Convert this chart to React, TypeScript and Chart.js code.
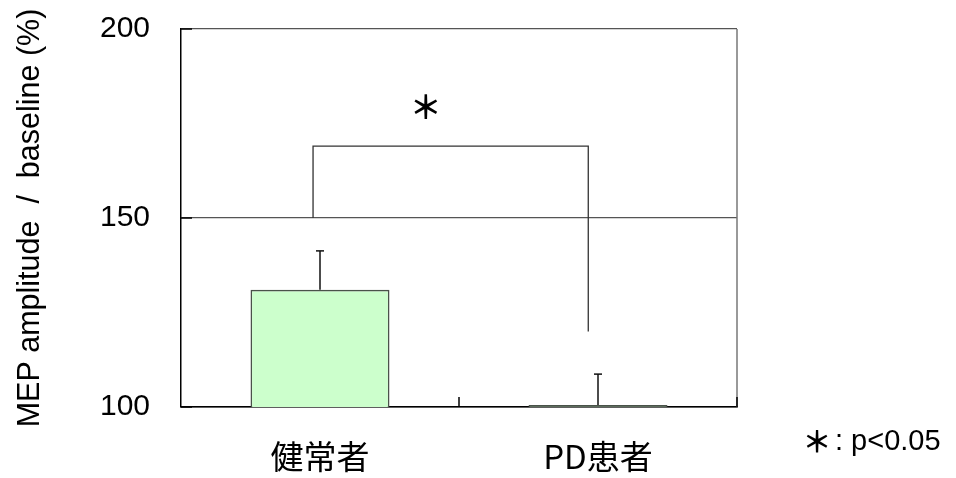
import React, { useEffect, useRef } from 'react';
import Chart from 'chart.js/auto';

// Groups on the x axis and their mean MEP ratio (% of baseline) with SEM
const groups = ['健常者', 'PD患者'];
const meanRatio = [131, 100.5];
const semRatio = [10.3, 8.2];
const yTickValues = [100, 150, 200];

// Significance bracket between the two groups (x in category units)
const bracketX = [-0.025, -0.025, 0.965, 0.965];
const bracketY = [150, 169, 169, 120];
const starMark = '＊';
const noteText = ': p<0.05';

const W = 956;
const H = 478;

const overlay = {
  id: 'overlay',
  afterDatasetsDraw(chart: any) {
    const { ctx, chartArea: a, scales } = chart;
    const y = scales.y;
    const x2 = scales.x2;
    const seg = (x1: number, y1: number, xb: number, yb: number) => {
      ctx.beginPath();
      ctx.moveTo(x1, y1);
      ctx.lineTo(xb, yb);
      ctx.stroke();
    };
    ctx.save();
    // right frame edge
    ctx.strokeStyle = '#777';
    ctx.lineWidth = 1.5;
    seg(a.right, a.top, a.right, a.bottom);

    // inward tick marks
    ctx.strokeStyle = '#000';
    ctx.lineWidth = 1.5;
    yTickValues.forEach((v) => {
      const py = y.getPixelForValue(v);
      seg(a.left, py, a.left + 11, py);
    });
    for (let i = 1; i <= groups.length; i++) {
      const px = x2.getPixelForValue(i - 0.5);
      seg(px, a.bottom, px, a.bottom - 10);
    }

    // error bars (mean + SEM)
    ctx.strokeStyle = '#111';
    ctx.lineWidth = 1.5;
    const meta = chart.getDatasetMeta(0);
    meta.data.forEach((bar: any, i: number) => {
      const top = y.getPixelForValue(meanRatio[i] + semRatio[i]);
      seg(bar.x, bar.y, bar.x, top);
      seg(bar.x - 4, top, bar.x + 4, top);
    });

    // significance star
    ctx.fillStyle = '#000';
    ctx.textAlign = 'center';
    ctx.textBaseline = 'middle';
    ctx.font = 'bold 32px "Noto Sans CJK JP"';
    ctx.fillText(starMark, x2.getPixelForValue(0.38), y.getPixelForValue(179.5));

    // note explaining the star
    ctx.textBaseline = 'alphabetic';
    ctx.font = 'bold 29px "Noto Sans CJK JP"';
    ctx.fillText(starMark, a.right + 80, 453);
    ctx.textAlign = 'left';
    ctx.font = '29px "Liberation Sans"';
    ctx.fillText(noteText, a.right + 98, 450);
    ctx.restore();
  },
};

export default function App() {
  const ref = useRef<HTMLCanvasElement>(null);

  useEffect(() => {
    document.body.style.margin = '0';
    const canvas = ref.current!;
    const chart = new Chart(canvas, {
      type: 'bar',
      data: {
        labels: groups,
        datasets: [
          {
            type: 'bar',
            data: meanRatio,
            backgroundColor: '#ccffcc',
            borderColor: '#4a524a',
            borderWidth: 1.6,
            borderSkipped: 'bottom',
            barPercentage: 0.5,
            categoryPercentage: 1,
            grouped: false,
            xAxisID: 'x',
            yAxisID: 'y',
          } as any,
          {
            type: 'line',
            data: bracketX.map((bx, i) => ({ x: bx, y: bracketY[i] })),
            borderColor: '#333',
            borderWidth: 1.3,
            pointRadius: 0,
            fill: false,
            tension: 0,
            xAxisID: 'x2',
            yAxisID: 'y',
          } as any,
        ],
      },
      options: {
        animation: false,
        responsive: false,
        devicePixelRatio: 1,
        layout: { padding: { top: 29, right: 219, left: 0, bottom: 0 } },
        plugins: { legend: { display: false }, tooltip: { enabled: false } },
        scales: {
          x: {
            type: 'category',
            offset: true,
            grid: { display: false, drawTicks: false },
            border: { display: true, color: '#000', width: 1.5 },
            ticks: {
              color: '#000',
              padding: 30,
              font: { family: '"Noto Sans CJK JP"', size: 33 },
            },
            afterFit: (s: any) => {
              s.height = 71;
              s.paddingLeft = 0;
              s.paddingRight = 0;
            },
          },
          x2: {
            type: 'linear',
            min: -0.5,
            max: 1.5,
            offset: false,
            display: false,
          },
          y: {
            min: 100,
            max: 200,
            ticks: {
              stepSize: 50,
              color: '#000',
              padding: 31,
              font: { family: '"Liberation Sans"', size: 30 },
            },
            grid: {
              drawTicks: false,
              color: (c: any) => (c.tick && c.tick.value === 100 ? '#000' : '#555'),
              lineWidth: 1.2,
            },
            border: { display: true, color: '#000', width: 1.5 },
            title: {
              display: true,
              text: 'MEP amplitude  /  baseline (%)',
              color: '#000',
              font: { family: '"Liberation Sans"', size: 30.5 },
              padding: { top: 12, bottom: 0 },
            },
            afterFit: (s: any) => {
              s.width = 181;
              s.paddingTop = 0;
              s.paddingBottom = 0;
            },
          },
        },
      },
      plugins: [overlay],
    });
    return () => chart.destroy();
  }, []);

  return (
    <div style={{ width: W, height: H }}>
      <canvas ref={ref} width={W} height={H} />
    </div>
  );
}
